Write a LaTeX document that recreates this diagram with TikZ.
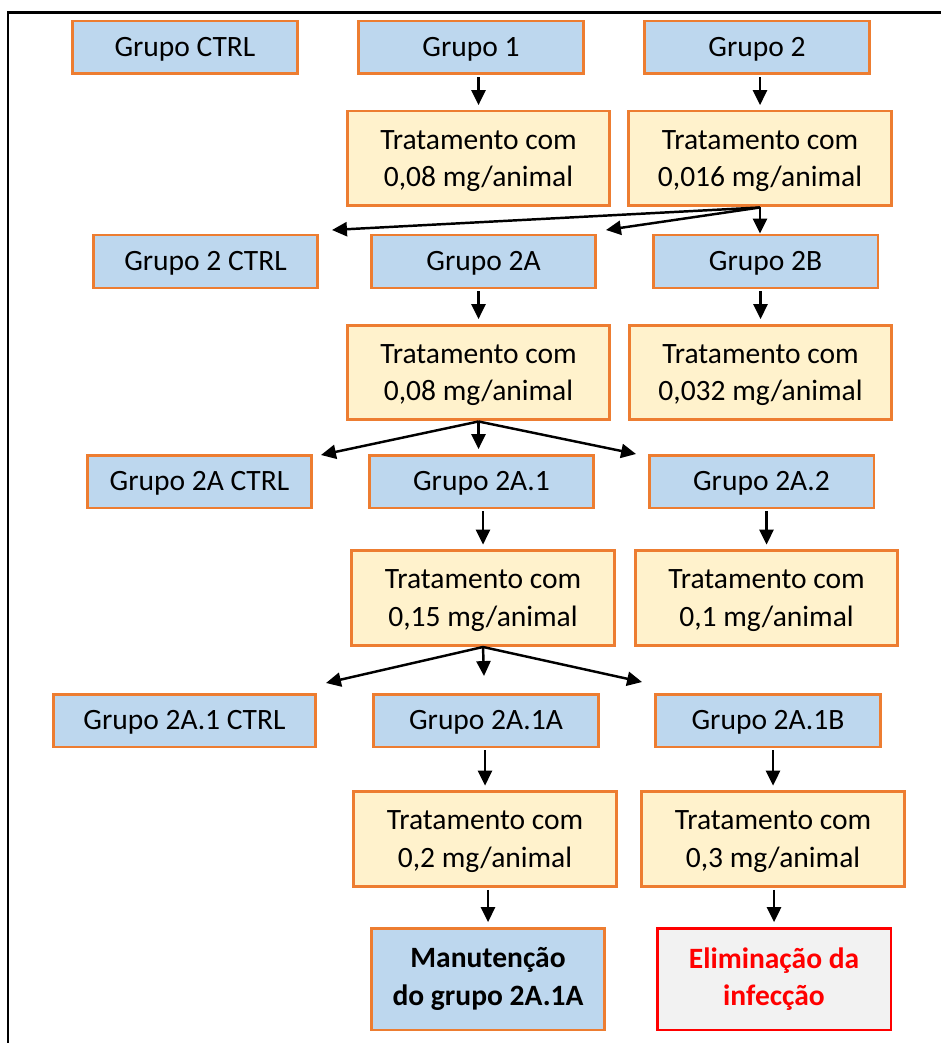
\documentclass[tikz,border=0pt]{standalone}
\usepackage{fontspec}
\setmainfont{Carlito}
\usetikzlibrary{arrows.meta,positioning}

\definecolor{boxblue}{HTML}{BDD7EE}
\definecolor{boxorange}{HTML}{ED7D31}
\definecolor{boxyellow}{HTML}{FFF2CC}
\definecolor{boxgray}{HTML}{F2F2F2}
\definecolor{boxred}{HTML}{FF0000}

\begin{document}
\begin{tikzpicture}[
	x = 0.02cm, y = -0.02cm, % one unit = one pixel of the page
	> = {Triangle[length=8.5pt,width=8pt]}, % arrow head style
	line width = 1.4pt, % arrow line
	B/.style={rectangle, draw=boxorange, fill=boxblue, line width=1.7pt, inner sep=0pt, align=center, font=\fontsize{16.8}{21.5}\selectfont},
	G/.style={B, minimum width=4.5cm, minimum height=1.06cm, text height=13.8pt, text depth=3pt},
	T/.style={B, fill=boxyellow, minimum width=5.26cm, minimum height=1.9cm, text depth=0pt},
	F/.style={B, minimum width=4.68cm, minimum height=2.04cm, font=\fontsize{16.8}{21.5}\selectfont\bfseries},
	V/.style={shorten < = 1pt, shorten > = 2.5pt},
	D/.style={shorten > = 0pt},
	]

	\useasboundingbox (0,0) rectangle (940,1043);
	\draw[line width=1.7pt] (8,1050) -- (8,13) -- (950,13);

	% Groups and treatments
	\node[G] (gCTRL) at (185,47.5)  {Grupo CTRL};
	\node[G] (g1)    at (471,47.5)  {Grupo 1};
	\node[G] (g2)    at (757,47.5)  {Grupo 2};

	\node[T] (t1) at (478.5,158.5) {Tratamento com\\0,08 mg/animal};
	\node[T] (t2) at (760,158.5)   {Tratamento com\\0,016 mg/animal};

	\node[G] (g2CTRL) at (205.5,261.5) {Grupo 2 CTRL};
	\node[G] (g2A)    at (483.5,261.5) {Grupo 2A};
	\node[G] (g2B)    at (765.5,261.5) {Grupo 2B};

	\node[T] (t3) at (478.5,372.5) {Tratamento com\\0,08 mg/animal};
	\node[T] (t4) at (760.5,372.5) {Tratamento com\\0,032 mg/animal};

	\node[G] (g2ACTRL) at (199.5,481.5) {Grupo 2A CTRL};
	\node[G] (g2A1)    at (481.5,481.5) {Grupo 2A.1};
	\node[G] (g2A2)    at (761.5,481.5) {Grupo 2A.2};

	\node[T] (t5) at (483,598)   {Tratamento com\\0,15 mg/animal};
	\node[T] (t6) at (766.5,598) {Tratamento com\\0,1 mg/animal};

	\node[G, minimum width=5.26cm] (g2A1CTRL) at (184.5,720.5) {Grupo 2A.1 CTRL};
	\node[G] (g2A1A) at (486,720.5) {Grupo 2A.1A};
	\node[G] (g2A1B) at (768,720.5) {Grupo 2A.1B};

	\node[T] (t7) at (485,839) {Tratamento com\\0,2 mg/animal};
	\node[T] (t8) at (773,839) {Tratamento com\\0,3 mg/animal};

	\node[F] (keep) at (488,979) {Manutenção\\do grupo 2A.1A};
	\node[F, draw=boxred, fill=boxgray, text=boxred] (cure) at (774,979) {Eliminação da\\infecção};

	% free ends of the branching arrows
	\coordinate (b2L) at (332,230);
	\coordinate (b2M) at (606,230);
	\coordinate (b3L) at (321,455);
	\coordinate (b3R) at (636,454);
	\coordinate (b5L) at (326,683);
	\coordinate (b5M) at (484,676);
	\coordinate (b5R) at (642,682);

	% Paths connecting nodes
	\path[->] (g1.south -| t1.north) edge[V] (t1.north);
	\path[->] (g2.south -| t2.north) edge[V] (t2.north);

	\path[->] (t2.south) edge[D] (b2L);
	\path[->] (t2.south) edge[D] (b2M);
	\path[->] (t2.south) edge[D] (t2.south |- g2B.north);

	\path[->] (g2A.south -| t3.north) edge[V] (t3.north);
	\path[->] (g2B.south -| t4.north) edge[V] (t4.north);

	\path[->] (t3.south) edge[D] (b3L);
	\path[->] (t3.south) edge[V, shorten < = 0pt] (t3.south |- g2A1.north);
	\path[->] (t3.south) edge[D] (b3R);

	\path[->] (g2A1.south -| t5.north) edge[V] (t5.north);
	\path[->] (g2A2.south -| t6.north) edge[V] (t6.north);

	\path[->] (t5.south) edge[D] (b5L);
	\path[->] (t5.south) edge[D] (b5M);
	\path[->] (t5.south) edge[D] (b5R);

	\path[->] (g2A1A.south -| t7.north) edge[V] (t7.north);
	\path[->] (g2A1B.south -| t8.north) edge[V] (t8.north);

	\path[->] (t7.south -| keep.north) edge[V] (keep.north);
	\path[->] (t8.south -| cure.north) edge[V] (cure.north);

\end{tikzpicture}
\end{document}
